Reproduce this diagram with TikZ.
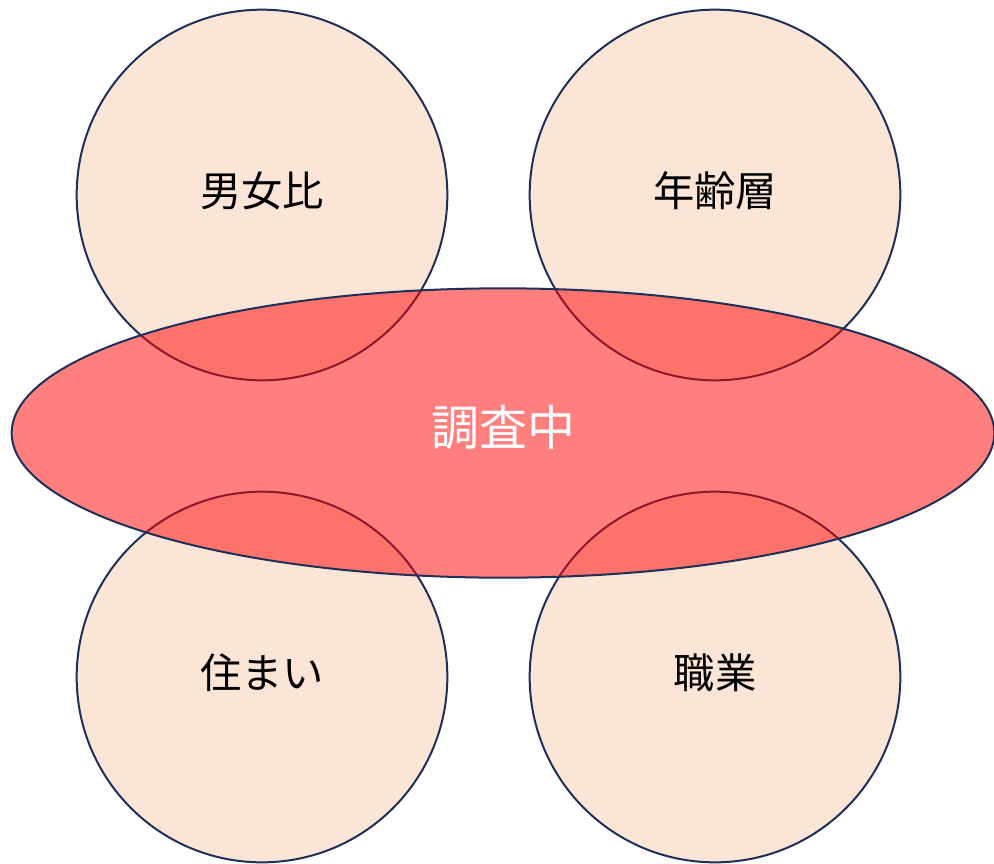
\documentclass[tikz,border=0pt]{standalone}
\usepackage{fontspec}
\usepackage{xcolor}
\usepackage{tikz}
\usetikzlibrary{shapes.geometric}
\setmainfont{Noto Sans CJK JP}
\definecolor{pfirsich}{HTML}{FBE5D6}
\definecolor{marine}{HTML}{1F3058}

\begin{document}
\begin{tikzpicture}[x=0.75pt,y=-0.75pt,line width=1.5pt,
   merkmal/.style={circle,draw=marine,fill=pfirsich,minimum size=278pt,inner sep=0pt,
     text height=27pt,text depth=10pt,font=\fontsize{31}{36}\selectfont},
   umfrage/.style={ellipse,draw=marine,fill=red,fill opacity=0.5,text opacity=1,text=white,
     minimum width=737pt,minimum height=217pt,inner sep=0pt,
     text height=31pt,text depth=13pt,font=\fontsize{36}{42}\selectfont}]

  \fill[white] (0,0) rectangle (994,863);
  \useasboundingbox (0,0) rectangle (994,863);

  \node[merkmal] (g) at (262,195) {男女比};
  \node[merkmal] (a) at (715,195) {年齢層};
  \node[merkmal] (w) at (262,677) {住まい};
  \node[merkmal] (b) at (715,677) {職業};
  \node[umfrage] (u) at (503,433) {調査中};
\end{tikzpicture}
\end{document}
